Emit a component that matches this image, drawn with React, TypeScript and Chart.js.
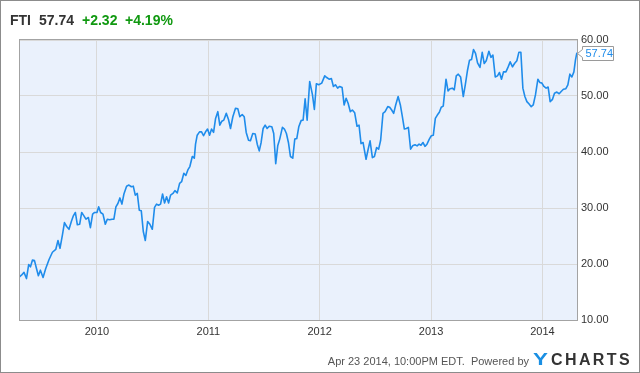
import React, { useEffect, useRef } from "react";
import { Chart, registerables } from "chart.js";

Chart.register(...registerables);

const ticker = "FTI";
const lastPrice = "57.74";
const change = "+2.32";
const changePct = "+4.19%";
const footerText = "Apr 23 2014, 10:00PM EDT.  Powered by";

const yearTicks = [2010, 2011, 2012, 2013, 2014];
const priceTicks = [10, 20, 30, 40, 50, 60];

const dates = [
  2009.304, 2009.322, 2009.345, 2009.367, 2009.387, 2009.403, 2009.421, 2009.439, 2009.457, 2009.474,
  2009.492, 2009.516, 2009.540, 2009.570, 2009.600, 2009.630, 2009.650, 2009.668, 2009.690, 2009.708,
  2009.728, 2009.749, 2009.770, 2009.788, 2009.806, 2009.824, 2009.845, 2009.863, 2009.883, 2009.901,
  2009.923, 2009.941, 2009.961, 2009.979, 2010.000, 2010.015, 2010.033, 2010.054, 2010.075, 2010.093,
  2010.114, 2010.135, 2010.152, 2010.170, 2010.188, 2010.206, 2010.224, 2010.242, 2010.266, 2010.287,
  2010.309, 2010.326, 2010.344, 2010.362, 2010.380, 2010.398, 2010.416, 2010.434, 2010.455, 2010.475,
  2010.497, 2010.517, 2010.535, 2010.553, 2010.571, 2010.589, 2010.607, 2010.625, 2010.643, 2010.661,
  2010.682, 2010.700, 2010.721, 2010.742, 2010.760, 2010.780, 2010.798, 2010.816, 2010.834, 2010.856,
  2010.874, 2010.885, 2010.900, 2010.921, 2010.939, 2010.957, 2010.975, 2010.993, 2011.011, 2011.029,
  2011.047, 2011.065, 2011.085, 2011.103, 2011.121, 2011.139, 2011.161, 2011.181, 2011.199, 2011.220,
  2011.244, 2011.265, 2011.283, 2011.304, 2011.322, 2011.340, 2011.361, 2011.378, 2011.399, 2011.421,
  2011.439, 2011.457, 2011.474, 2011.492, 2011.510, 2011.528, 2011.546, 2011.570, 2011.587, 2011.605,
  2011.623, 2011.641, 2011.665, 2011.683, 2011.701, 2011.719, 2011.737, 2011.758, 2011.776, 2011.794,
  2011.812, 2011.833, 2011.851, 2011.869, 2011.887, 2011.910, 2011.935, 2011.952, 2011.970, 2011.991,
  2012.018, 2012.045, 2012.063, 2012.084, 2012.105, 2012.123, 2012.141, 2012.161, 2012.179, 2012.201,
  2012.219, 2012.237, 2012.255, 2012.275, 2012.293, 2012.314, 2012.335, 2012.353, 2012.371, 2012.389,
  2012.416, 2012.434, 2012.452, 2012.473, 2012.491, 2012.511, 2012.529, 2012.547, 2012.568, 2012.587,
  2012.611, 2012.628, 2012.646, 2012.664, 2012.682, 2012.704, 2012.724, 2012.742, 2012.760, 2012.778,
  2012.796, 2012.816, 2012.834, 2012.856, 2012.874, 2012.892, 2012.909, 2012.927, 2012.945, 2012.963,
  2012.984, 2013.002, 2013.020, 2013.038, 2013.056, 2013.074, 2013.091, 2013.109, 2013.134, 2013.152,
  2013.170, 2013.190, 2013.208, 2013.226, 2013.244, 2013.265, 2013.289, 2013.307, 2013.327, 2013.345,
  2013.363, 2013.381, 2013.399, 2013.417, 2013.439, 2013.459, 2013.477, 2013.495, 2013.519, 2013.537,
  2013.555, 2013.576, 2013.596, 2013.614, 2013.632, 2013.650, 2013.672, 2013.692, 2013.710, 2013.731,
  2013.749, 2013.770, 2013.788, 2013.806, 2013.824, 2013.842, 2013.860, 2013.878, 2013.899, 2013.917,
  2013.937, 2013.959, 2013.977, 2013.995, 2014.013, 2014.033, 2014.051, 2014.069, 2014.090, 2014.108,
  2014.129, 2014.150, 2014.168, 2014.188, 2014.210, 2014.228, 2014.246, 2014.264, 2014.282, 2014.296,
  2014.309,
];

const prices = [
  17.7, 18.0, 18.5, 17.4, 19.9, 19.5, 20.7, 20.6, 19.2, 17.9,
  18.9, 17.6, 19.2, 20.8, 22.1, 22.6, 24.2, 22.8, 25.2, 27.4,
  26.7, 26.2, 27.6, 28.6, 29.2, 27.0, 27.1, 29.2, 28.6, 28.0,
  28.3, 26.5, 28.9, 29.2, 29.2, 30.2, 29.2, 28.9, 27.1, 28.0,
  27.9, 28.0, 28.0, 30.2, 30.8, 31.8, 30.7, 32.5, 33.9, 34.1,
  33.8, 33.9, 32.3, 32.6, 29.6, 29.5, 25.8, 24.2, 27.6, 27.1,
  26.2, 30.1, 30.7, 30.5, 30.7, 32.5, 30.9, 32.0, 30.9, 32.3,
  32.6, 33.1, 32.7, 34.4, 34.7, 36.2, 35.8, 36.8, 37.4, 39.2,
  38.9, 41.4, 43.0, 43.6, 43.6, 42.9, 43.6, 44.1, 43.0, 44.1,
  43.5, 46.0, 47.2, 44.8, 45.5, 45.7, 46.9, 45.8, 44.2, 46.3,
  47.8, 47.7, 46.3, 46.7, 46.3, 43.5, 42.1, 42.0, 43.3, 43.2,
  41.4, 40.2, 41.7, 44.2, 44.8, 44.2, 44.6, 44.5, 43.3, 37.9,
  41.1, 42.3, 44.4, 44.1, 43.3, 41.7, 39.2, 38.9, 42.3, 42.4,
  44.5, 45.6, 45.7, 49.5, 45.7, 52.6, 50.2, 47.6, 52.2, 52.0,
  52.3, 53.6, 53.3, 53.0, 53.1, 51.7, 52.0, 51.4, 51.7, 51.5,
  48.4, 49.6, 48.7, 47.2, 47.5, 47.0, 44.6, 44.8, 41.5, 41.7,
  38.7, 40.4, 42.0, 39.0, 39.2, 40.8, 40.5, 42.1, 46.9, 47.2,
  48.1, 48.0, 47.5, 46.9, 48.4, 49.9, 48.4, 46.3, 44.1, 44.2,
  44.4, 40.5, 41.1, 41.3, 41.1, 41.4, 41.2, 41.7, 41.0, 41.4,
  42.3, 42.9, 43.0, 46.0, 46.6, 47.1, 48.0, 48.2, 53.0, 50.9,
  51.3, 51.4, 51.1, 53.6, 53.9, 53.4, 49.9, 52.0, 54.6, 56.4,
  56.5, 58.3, 57.6, 55.9, 55.1, 57.8, 55.8, 56.3, 58.0, 56.9,
  57.3, 53.4, 53.6, 54.2, 53.0, 54.3, 54.3, 55.2, 56.1, 55.2,
  55.8, 56.3, 57.8, 57.8, 51.4, 49.9, 49.0, 48.6, 48.1, 48.4,
  50.2, 53.0, 52.4, 52.3, 51.7, 51.4, 51.6, 49.0, 49.4, 50.5,
  50.7, 50.4, 50.8, 51.2, 51.3, 52.0, 53.9, 53.4, 54.3, 56.4,
  57.74,
];

const FONT = "'Liberation Sans', Arial, Helvetica, sans-serif";
const LINE_COLOR = "#1f8ceb";

const plotFrame = {
  id: "plotFrame",
  beforeDraw(chart: any) {
    const { ctx, chartArea: a } = chart;
    ctx.save();
    ctx.fillStyle = "#eaf1fc";
    ctx.fillRect(a.left, a.top, a.right - a.left, a.bottom - a.top);
    ctx.restore();
  },
  afterDatasetsDraw(chart: any) {
    const { ctx, chartArea: a } = chart;
    ctx.save();
    ctx.strokeStyle = "#a3a3a3";
    ctx.lineWidth = 1;
    ctx.strokeRect(Math.round(a.left) + 0.5, Math.round(a.top) - 0.5, Math.round(a.right - a.left), Math.round(a.bottom - a.top) + 1);
    // last value callout
    const meta = chart.getDatasetMeta(0);
    const pt = meta.data[meta.data.length - 1];
    const arr = chart.data.datasets[0].data;
    const last = arr[arr.length - 1];
    const val = typeof last === "object" ? last.y : last;
    const tipX = Math.round(a.right) + 0.5;
    const yp = Math.round(pt.y) + 0.5;
    const left = tipX + 5;
    const right = tipX + 36;
    const top = yp - 7;
    const bottom = yp + 7;
    ctx.beginPath();
    ctx.moveTo(left, top);
    ctx.lineTo(right, top);
    ctx.lineTo(right, bottom);
    ctx.lineTo(left, bottom);
    ctx.lineTo(left, yp + 4);
    ctx.lineTo(tipX, yp);
    ctx.lineTo(left, yp - 4);
    ctx.closePath();
    ctx.fillStyle = "#ffffff";
    ctx.fill();
    ctx.strokeStyle = "#9a9a9a";
    ctx.stroke();
    ctx.fillStyle = LINE_COLOR;
    ctx.font = `11px ${FONT}`;
    ctx.textBaseline = "middle";
    ctx.textAlign = "left";
    ctx.fillText(Number(val).toFixed(2), left + 3, yp + 0.5);
    ctx.restore();
  },
};

export default function App() {
  const ref = useRef<HTMLCanvasElement | null>(null);

  useEffect(() => {
    if (!ref.current) return;
    const points = dates.map((d, i) => ({ x: d, y: prices[i] }));
    const chart = new Chart(ref.current, {
      type: "line",
      data: {
        datasets: [
          {
            data: points,
            borderColor: LINE_COLOR,
            borderWidth: 1.6,
            pointRadius: 0,
            tension: 0,
            borderJoinStyle: "round",
            fill: false,
          },
        ],
      },
      options: {
        animation: false,
        responsive: false,
        maintainAspectRatio: false,
        devicePixelRatio: 1,
        layout: { padding: { left: 19, top: 40, right: 0, bottom: 0 } },
        plugins: { legend: { display: false }, tooltip: { enabled: false } },
        scales: {
          x: {
            type: "linear",
            min: 2009.3,
            max: 2014.31,
            afterBuildTicks: (scale: any) => {
              scale.ticks = yearTicks.map((v) => ({ value: v }));
            },
            afterFit: (scale: any) => {
              scale.height = 53;
            },
            grid: { color: "#d9d9d9", drawTicks: false, lineWidth: 1 },
            border: { display: false },
            ticks: {
              autoSkip: false,
              maxRotation: 0,
              padding: 5,
              color: "#333333",
              font: { family: FONT, size: 11 },
              callback: (v: any) => String(v),
            },
          },
          y: {
            type: "linear",
            position: "right",
            min: 10,
            max: 60,
            afterBuildTicks: (scale: any) => {
              scale.ticks = priceTicks.map((v) => ({ value: v }));
            },
            afterFit: (scale: any) => {
              scale.width = 63;
            },
            grid: { color: "#d9d9d9", drawTicks: false, lineWidth: 1 },
            border: { display: false },
            ticks: {
              padding: 4,
              color: "#333333",
              font: { family: FONT, size: 11 },
              callback: (v: any) => Number(v).toFixed(2),
            },
          },
        },
      },
      plugins: [plotFrame],
    });
    return () => chart.destroy();
  }, []);

  const titleStyle: React.CSSProperties = {
    position: "absolute",
    top: 13,
    fontFamily: FONT,
    fontSize: 14,
    fontWeight: "bold",
    lineHeight: "14px",
    whiteSpace: "nowrap",
  };

  return (
    <div style={{ position: "fixed", left: 0, top: 0, width: 640, height: 373, background: "#fff", overflow: "hidden" }}>
      <canvas ref={ref} width={640} height={373} style={{ position: "absolute", left: 0, top: 0, width: 640, height: 373 }} />
      <span style={{ ...titleStyle, left: 10, color: "#333" }}>{ticker}</span>
      <span style={{ ...titleStyle, left: 39, color: "#333" }}>{lastPrice}</span>
      <span style={{ ...titleStyle, left: 82, color: "#119911" }}>{change}</span>
      <span style={{ ...titleStyle, left: 125, color: "#119911" }}>{changePct}</span>
      <span
        style={{
          position: "absolute",
          right: 111,
          top: 354,
          fontFamily: FONT,
          fontSize: 11,
          lineHeight: "14px",
          color: "#555",
          whiteSpace: "pre",
        }}
      >
        {footerText}
      </span>
      <span
        style={{
          position: "absolute",
          left: 533,
          top: 352,
          fontFamily: FONT,
          fontSize: 16,
          fontWeight: "bold",
          lineHeight: "16px",
          whiteSpace: "nowrap",
        }}
      >
        <span style={{ color: "#1a8fe3", display: "inline-block", width: 18, transform: "scaleX(1.4)", transformOrigin: "left center" }}>Y</span>
        <span style={{ color: "#333", letterSpacing: "2.4px" }}>CHARTS</span>
      </span>
      <div
        style={{
          position: "absolute",
          left: 0,
          top: 0,
          width: 640,
          height: 373,
          boxSizing: "border-box",
          border: "1px solid #8c8c8c",
          pointerEvents: "none",
        }}
      />
    </div>
  );
}
